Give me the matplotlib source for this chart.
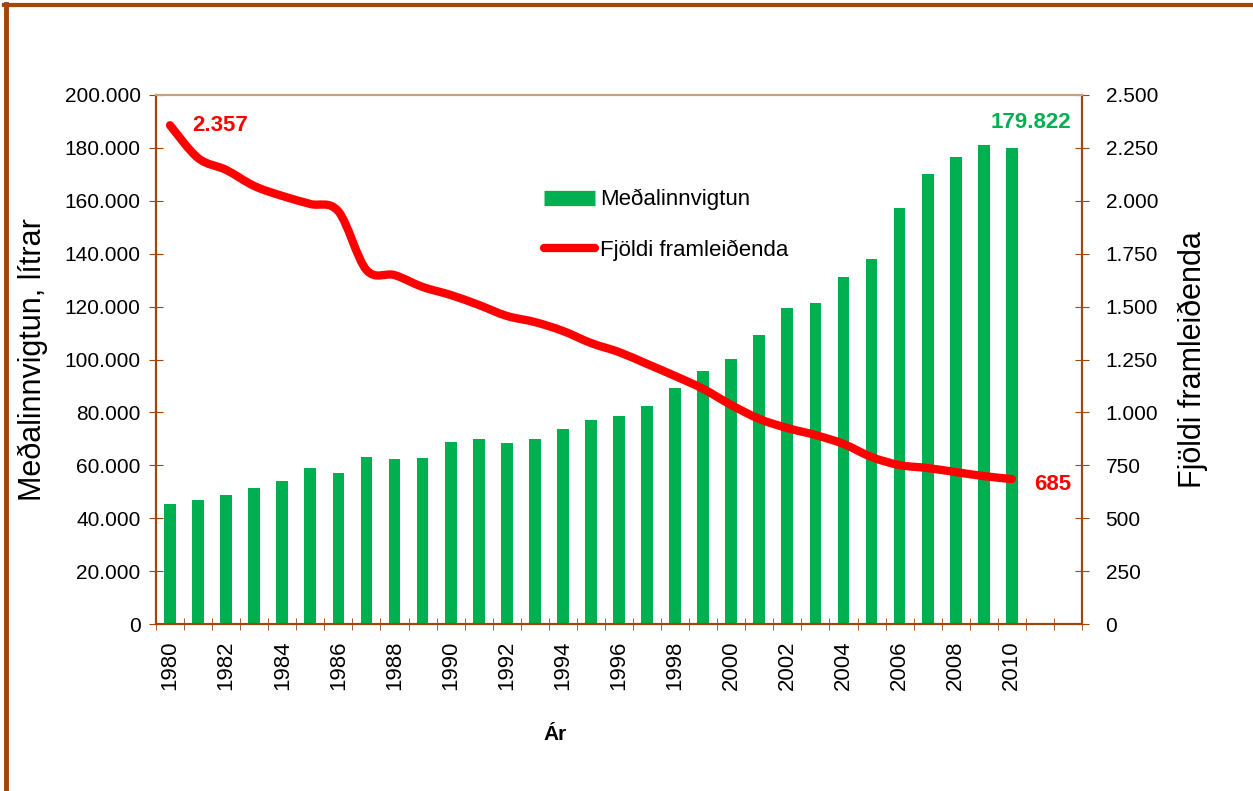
import numpy as np
import matplotlib.pyplot as plt
from matplotlib.path import Path
from matplotlib.patches import PathPatch
from matplotlib.lines import Line2D
from matplotlib.ticker import FuncFormatter

plt.rcParams['font.family'] = ['Liberation Sans Narrow', 'Liberation Sans', 'DejaVu Sans']

# Data
years = list(range(1980, 2013))
innvigtun = [45400, 46900, 48800, 51400, 54100, 59000, 57100, 63100, 62400, 62800,
             68800, 69900, 68400, 69900, 73700, 77100, 78600, 82400, 89200, 95700,
             100200, 109300, 119500, 121400, 131200, 138000, 157300, 170100, 176600,
             181100, 179822]
framleidendur = [2357, 2202, 2146, 2070, 2023, 1985, 1950, 1673, 1649, 1593,
                 1555, 1508, 1456, 1427, 1385, 1328, 1285, 1229, 1172, 1111,
                 1035, 969, 926, 893, 851, 789, 751, 737, 718, 699, 685]
tick_years = [str(y) if y % 2 == 0 and y <= 2010 else '' for y in years]

green = '#00B050'
red = '#FF0000'
brown = '#A0460A'


def thousands(v, pos):
    return f'{int(round(v)):,}'.replace(',', '.')


def smooth_path(xs, ys):
    # Catmull-Rom style bezier, like excel's smoothed line
    verts = [(xs[0], ys[0])]
    codes = [Path.MOVETO]
    n = len(xs)
    for i in range(n - 1):
        x0, y0 = (xs[i - 1], ys[i - 1]) if i > 0 else (xs[i], ys[i])
        x1, y1 = xs[i], ys[i]
        x2, y2 = xs[i + 1], ys[i + 1]
        x3, y3 = (xs[i + 2], ys[i + 2]) if i + 2 < n else (x2, y2)
        c1 = (x1 + (x2 - x0) / 6, y1 + (y2 - y0) / 6)
        c2 = (x2 - (x3 - x1) / 6, y2 - (y3 - y1) / 6)
        verts += [c1, c2, (x2, y2)]
        codes += [Path.CURVE4] * 3
    return Path(verts, codes)


fig = plt.figure(figsize=(12.53, 7.91), dpi=100)
ax = fig.add_axes([156 / 1253, 1 - 624 / 791, (1082 - 156) / 1253, (624 - 95) / 791])
ax2 = ax.twinx()

x = np.arange(len(years))
xb = x[:len(innvigtun)]
ax.bar(xb, innvigtun, width=0.42, color=green, zorder=2)
ax.set_xlim(-0.5, len(years) - 0.5)
ax.set_ylim(0, 200000)
ax.set_yticks(np.arange(0, 200001, 20000))
ax.yaxis.set_major_formatter(FuncFormatter(thousands))
ax.set_xticks(x)
ax.set_xticklabels(tick_years, rotation=90, fontsize=16)
ax.set_xticks(np.arange(-0.5, len(years), 1), minor=True)
ax.tick_params(axis='x', which='major', length=0, pad=12)
ax.tick_params(axis='x', which='minor', length=8, direction='inout', color=brown)
ax.tick_params(axis='y', labelsize=15, length=10, direction='inout', color=brown, pad=6)
ax.set_ylabel('Meðalinnvigtun, lítrar', fontsize=22, family=['Liberation Sans', 'DejaVu Sans'], labelpad=12)
ax.set_xlabel('Ár', fontsize=15, fontweight='bold', labelpad=24)
ax.xaxis.set_label_coords(0.431, -0.19)

ax2.set_ylim(0, 2500)
ax2.set_yticks(np.arange(0, 2501, 250))
ax2.yaxis.set_major_formatter(FuncFormatter(thousands))
ax2.tick_params(axis='y', labelsize=15, length=10, direction='inout', color=brown, pad=12)
ax2.set_ylabel('Fjöldi framleiðenda', fontsize=22, family=['Liberation Sans', 'DejaVu Sans'], labelpad=14)

line_path = smooth_path(list(xb), framleidendur)
ax2.add_patch(PathPatch(line_path, facecolor='none', edgecolor=red, lw=6,
                        capstyle='round', joinstyle='round', transform=ax2.transData, zorder=3))

for a in (ax, ax2):
    a.spines['left'].set_color(brown)
    a.spines['bottom'].set_color(brown)
    a.spines['right'].set_color(brown)
    a.spines['top'].set_color('#C8A07A')
    for s in a.spines.values():
        s.set_linewidth(1.5)

ax2.text(xb[0] + 0.8, framleidendur[0], f'{framleidendur[0]:,}'.replace(',', '.'),
         color=red, fontsize=16, fontweight='bold', va='center')
ax2.text(len(years) - 0.9, framleidendur[-1] - 25, f'{framleidendur[-1]:,}'.replace(',', '.'),
         color=red, fontsize=16, fontweight='bold', va='center', ha='right')
ax.text(len(years) - 0.9, 189500, f'{innvigtun[-1]:,}'.replace(',', '.'),
        color=green, fontsize=16, fontweight='bold', va='center', ha='right')

handles = [Line2D([0], [0], color=green, lw=11, solid_capstyle='butt'),
           Line2D([0], [0], color=red, lw=6, solid_capstyle='round')]
ax.legend(handles, ['Meðalinnvigtun', 'Fjöldi framleiðenda'], loc='upper left',
          bbox_to_anchor=(0.397, 0.86), frameon=False, fontsize=16, handlelength=2.3,
          handletextpad=0.25, labelspacing=1.3)

# outer frame
fig.add_artist(Line2D([6 / 1253, 6 / 1253], [0, 1 - 4 / 791], color='#A0480C', lw=3.5))
fig.add_artist(Line2D([4 / 1253, 1], [1 - 4.5 / 791, 1 - 4.5 / 791], color='#A0480C', lw=3))

fig.savefig('out.png', dpi=100)
